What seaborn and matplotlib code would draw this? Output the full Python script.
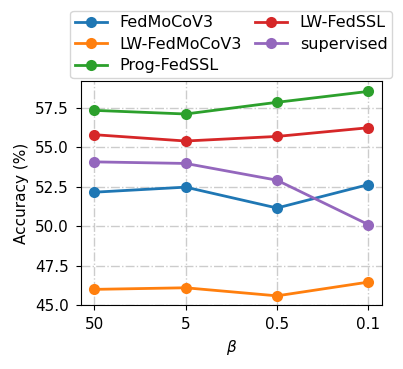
import pandas as pd
import matplotlib
matplotlib.use('Agg')
import matplotlib.pyplot as plt
import seaborn as sns

betas = ['50', '5', '0.5', '0.1']
fedmocov3 = [52.15, 52.47, 51.15, 52.63]
lw_fedmocov3 = [46.0, 46.1, 45.59, 46.46]
prog_fedssl = [57.33, 57.1, 57.84, 58.53]
lw_fedssl = [55.79, 55.39, 55.68, 56.23]
supervised = [54.07, 53.97, 52.91, 50.10]

series = {
    'FedMoCoV3': fedmocov3,
    'LW-FedMoCoV3': lw_fedmocov3,
    'Prog-FedSSL': prog_fedssl,
    'LW-FedSSL': lw_fedssl,
    'supervised': supervised,
}

rows = []
for name, vals in series.items():
    for b, v in zip(betas, vals):
        rows.append({'beta': b, 'acc': v, 'method': name})
df = pd.DataFrame(rows)

fig, ax = plt.subplots(figsize=(4.03, 3.69), dpi=100)
sns.lineplot(data=df, x='beta', y='acc', hue='method', marker='o',
             markersize=8, linewidth=2, markeredgewidth=0,
             palette='tab10', ax=ax, sort=False)

ax.set_ylim(bottom=45)
ax.grid(True, linestyle='-.', color='#cccccc', linewidth=1)
ax.set_axisbelow(True)
ax.set_xlabel(r'$\beta$', fontsize=11)
ax.set_ylabel('Accuracy (%)', fontsize=11)
ax.tick_params(labelsize=11, pad=5)

ax.legend(loc='lower center', bbox_to_anchor=(0.5, 1.0), ncol=2,
          fontsize=11.5, handlelength=2, columnspacing=0.8,
          handletextpad=0.8, borderaxespad=0.2, labelspacing=0.4,
          borderpad=0.3)

fig.subplots_adjust(left=0.2, right=0.948, top=0.78, bottom=0.173)
fig.savefig('out.png', dpi=100)
